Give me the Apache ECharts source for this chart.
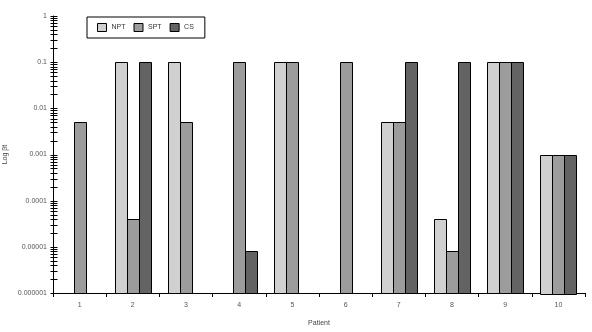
<!DOCTYPE html>
<html>
<head>
<meta charset="utf-8">
<script src="https://cdn.jsdelivr.net/npm/echarts@6/dist/echarts.min.js"></script>
<style>
  html, body { margin: 0; padding: 0; background: #fff; }
  #main { width: 592px; height: 332px; }
</style>
</head>
<body>
<div id="main"></div>
<script>
// patients on the x axis
var patients = ['1', '2', '3', '4', '5', '6', '7', '8', '9', '10'];
// log βt values per patient, null = no bar
var nptValues = [null, 0.1, 0.1, null, 0.1, null, 0.005, 0.00004, 0.1, 0.001];
var sptValues = [0.005, 0.00004, 0.005, 0.1, 0.1, 0.1, 0.005, 0.000008, 0.1, 0.001];
var csValues  = [null, 0.1, null, 0.000008, null, null, 0.1, 0.1, 0.1, 0.001];
// y tick labels, from 10^0 down to 10^-6
var yTickLabels = ['1', '0.1', '0.01', '0.001', '0.0001', '0.00001', '0.000001'];
var minorSteps = [2, 3, 4, 5, 6, 7, 8, 9];

(function () {
    var chart = echarts.init(document.getElementById('main'));
    var fontFam = '"Liberation Sans", Arial, sans-serif';
    var yMin = 0.000001, yMax = 1;
    var barFrac = 0.2256;   // one bar's share of the category band

    // y ticks (major + minor) as real log values
    var tickVals = [];
    for (var i = 0; i < yTickLabels.length; i++) {
        var dec = Math.pow(10, -i);
        tickVals.push([0, dec]);
        if (i > 0) {
            for (var j = 0; j < minorSteps.length; j++) {
                tickVals.push([0, dec * minorSteps[j]]);
            }
        }
    }

    // bars on a log axis have to grow from the axis min, so draw them as custom
    function barSeries(name, values, color, slot) {
        var data = [];
        for (var k = 0; k < values.length; k++) {
            if (values[k] != null) data.push([k, values[k]]);
        }
        return {
            name: name,
            type: 'custom',
            data: data,
            itemStyle: { color: color },
            encode: { x: 0, y: 1 },
            renderItem: function (params, api) {
                var top = api.coord([api.value(0), api.value(1)]);
                var base = api.coord([api.value(0), yMin]);
                var w = api.size([1, 0])[0] * barFrac;
                var x = top[0] + (slot - 1.5) * w;
                return {
                    type: 'rect',
                    shape: { x: Math.round(x) + 0.5, y: Math.round(top[1]) + 0.5,
                             width: Math.round(w), height: Math.round(base[1] - top[1]) },
                    style: { fill: color, stroke: '#000', lineWidth: 1 }
                };
            }
        };
    }

    var option = {
        animation: false,
        textStyle: { fontFamily: fontFam },
        grid: { left: 53, right: 7, top: 16, bottom: 39, outerBoundsMode: 'none' },
        legend: {
            left: 87, top: 17,
            padding: [6, 11, 6, 10],
            borderColor: '#000', borderWidth: 1,
            itemWidth: 9, itemHeight: 8, itemGap: 8,
            textStyle: { fontSize: 7, color: '#333', fontFamily: fontFam },
            data: [
                { name: 'NPT', icon: 'rect', itemStyle: { color: '#d0d0d0', borderColor: '#000', borderWidth: 1 } },
                { name: 'SPT', icon: 'rect', itemStyle: { color: '#9c9c9c', borderColor: '#000', borderWidth: 1 } },
                { name: 'CS', icon: 'rect', itemStyle: { color: '#636363', borderColor: '#000', borderWidth: 1 } }
            ]
        },
        xAxis: {
            type: 'category',
            data: patients,
            name: 'Patient',
            nameLocation: 'middle',
            nameGap: 27,
            nameTextStyle: { fontSize: 7, color: '#444' },
            axisLine: { lineStyle: { color: '#000', width: 1 } },
            axisTick: { show: true, length: 4, lineStyle: { color: '#000' } },
            axisLabel: { fontSize: 7, color: '#555', margin: 9 }
        },
        yAxis: {
            type: 'log',
            logBase: 10,
            min: yMin,
            max: yMax,
            name: 'Log βt',
            nameLocation: 'middle',
            nameGap: 44,
            nameRotate: 90,
            nameMoveOverlap: false,
            nameTextStyle: { fontSize: 7, color: '#444' },
            axisLine: { show: true, lineStyle: { color: '#000', width: 1 } },
            axisTick: { show: false },
            splitLine: { show: false },
            axisLabel: {
                fontSize: 7, color: '#555', margin: 6,
                formatter: function (v) {
                    var k = Math.round(-Math.log10(v));
                    return yTickLabels[k] || '';
                }
            }
        },
        series: [
            barSeries('NPT', nptValues, '#d0d0d0', 0),
            barSeries('SPT', sptValues, '#9c9c9c', 1),
            barSeries('CS', csValues, '#636363', 2),
            {
                name: 'ticks',
                type: 'custom',
                silent: true,
                z: 5,
                data: tickVals,
                renderItem: function (params, api) {
                    var y = Math.round(api.coord([0, api.value(1)])[1]) + 0.5;
                    var x = Math.round(params.coordSys.x) + 0.5;
                    return {
                        type: 'line',
                        shape: { x1: x - 3, y1: y, x2: x + 4, y2: y },
                        style: { stroke: '#000', lineWidth: 1 }
                    };
                }
            }
        ]
    };
    chart.setOption(option);
})();
</script>
</body>
</html>
